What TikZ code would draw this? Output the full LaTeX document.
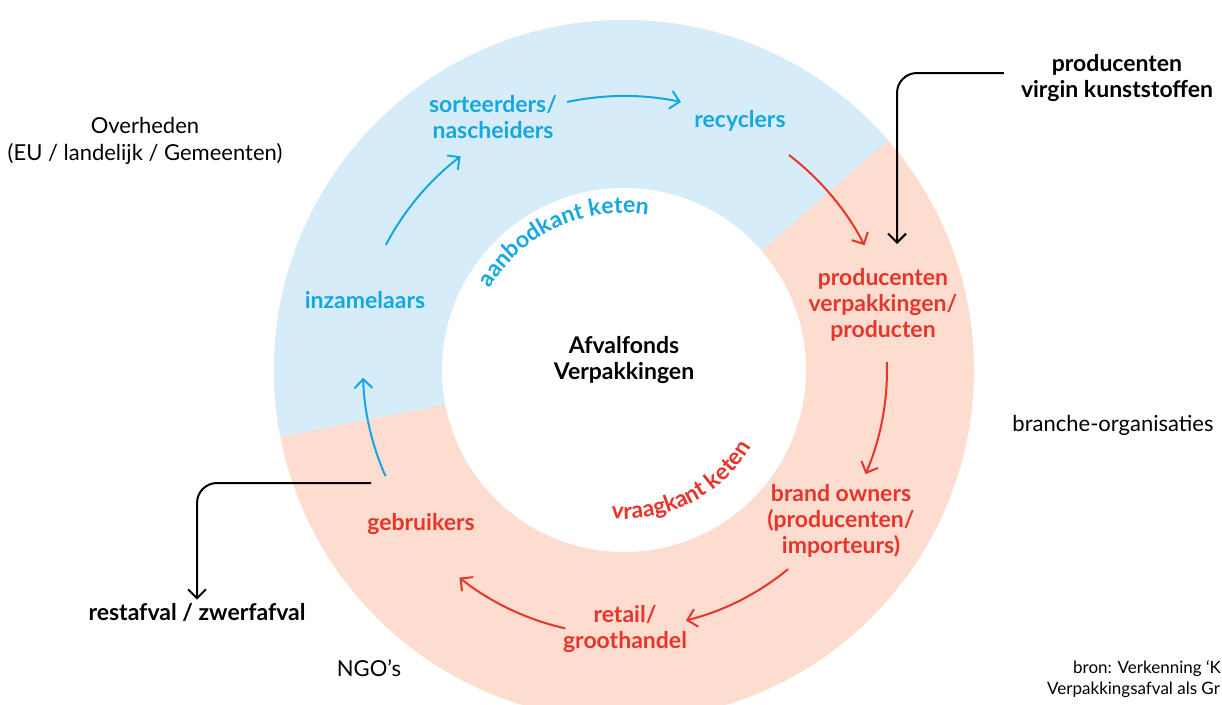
\documentclass[tikz,border=0pt]{standalone}
\usepackage{fontspec}
\setmainfont{Lato}
\usetikzlibrary{arrows.meta,decorations.text,calc}
\definecolor{pblue}{HTML}{D6EDF9}
\definecolor{psalm}{HTML}{FDDDCF}
\definecolor{tblue}{HTML}{14A8E2}
\definecolor{tred}{HTML}{E8352B}
\begin{document}
\begin{tikzpicture}[x=1pt,y=1pt,
  lab/.style={inner sep=0pt, align=center, font=\fontsize{23}{26}\selectfont\bfseries},
  bl/.style={lab, text=tblue},
  rd/.style={lab, text=tred},
  blk/.style={lab, text=black},
  note/.style={inner sep=0pt, align=center, font=\fontsize{22}{27}\selectfont},
  src/.style={inner sep=0pt, anchor=west, font=\fontsize{17}{20}\selectfont},
  flow/.style={line width=2pt, -{Straight Barb[length=9pt,width=18pt]}},
  link/.style={line width=2pt, rounded corners=20pt, -{Straight Barb[length=9pt,width=18pt]}}]
\useasboundingbox (0,0) rectangle (1222,-704);
\coordinate (C) at (624,-370);
% ring
\fill[psalm] (C) circle[radius=350];
\fill[pblue] (C) -- ++(41:350) arc[start angle=41,end angle=191,radius=350] -- cycle;
\fill[white] (C) circle[radius=182];
% centre
\node[blk] (afv) at (624,-360) {Afvalfonds\\Verpakkingen};
% curved texts
\coordinate (ab1) at ($(C)+(152:157)$);
\path[decorate, decoration={text along path, text align=center,
  text={|\fontsize{23}{25}\selectfont\bfseries\color{tblue}|aanbodkant keten}}]
  (ab1) arc[start angle=152, end angle=78, radius=157];
\coordinate (vr1) at ($(C)+(-101:149)$);
\path[decorate, decoration={text along path, text align=center,
  text={|\fontsize{23}{25}\selectfont\bfseries\color{tred}|vraagkant keten}}]
  (vr1) arc[start angle=-101, end angle=-25, radius=149];
% chain labels
\node[bl] (sort) at (493,-117) {sorteerders/\\nascheiders};
\node[bl] (recy) at (740,-121) {recyclers};
\node[bl] (inz) at (365,-300) {inzamelaars};
\node[rd] (prod) at (883,-305) {producenten\\verpakkingen/\\producten};
\node[rd] (brand) at (841,-521) {brand owners\\(producenten/\\importeurs)};
\node[rd] (retail) at (625,-629) {retail/\\groothandel};
\node[rd] (geb) at (421,-524) {gebruikers};
% outside labels
\node[note] (over) at (145,-141) {Overheden\\(EU / landelijk / Gemeenten)};
\node[blk] (virgin) at (1117,-78) {producenten\\virgin kunststoffen};
\node[note] (branche) at (1113,-425) {branche-organisaties};
\node[blk] (rest) at (197,-612) {restafval / zwerfafval};
\node[note] (ngo) at (369,-668) {NGO’s};
\node[src] (bron1) at (1073,-669) {bron: Verkenning ‘K};
\node[src] (bron2) at (1047,-690) {Verpakkingsafval als Gr};
% flow arcs
\coordinate (f1) at ($(C)+(152.3:269)$);
\coordinate (f2) at ($(C)+(102:274)$);
\coordinate (f3) at ($(C)+(52.5:271)$);
\coordinate (f4) at ($(C)+(1.7:263)$);
\coordinate (f5) at ($(C)+(-50.5:258)$);
\coordinate (f6) at ($(C)+(-102.8:265)$);
\coordinate (f7) at ($(C)+(-156:261)$);
\draw[flow, tblue] (f1) arc[start angle=152.3, end angle=127.4, radius=269];
\draw[flow, tblue] (f2) arc[start angle=102, end angle=78, radius=274];
\draw[flow, tred] (f3) arc[start angle=52.5, end angle=27.4, radius=271];
\draw[flow, tred] (f4) arc[start angle=1.7, end angle=-23.3, radius=263];
\draw[flow, tred] (f5) arc[start angle=-50.5, end angle=-76.1, radius=258];
\draw[flow, tred] (f6) arc[start angle=-102.8, end angle=-128.4, radius=265];
\draw[flow, tblue] (f7) arc[start angle=-156, end angle=-178.3, radius=261];
% black links
\coordinate (vtip) at (897,-244);
\coordinate (rstart) at (371,-483);
\draw[link] ([xshift=-17pt,yshift=5pt]virgin.west) -| (vtip);
\draw[link] (rstart) -| ([yshift=3pt]rest.north);
\end{tikzpicture}
\end{document}
